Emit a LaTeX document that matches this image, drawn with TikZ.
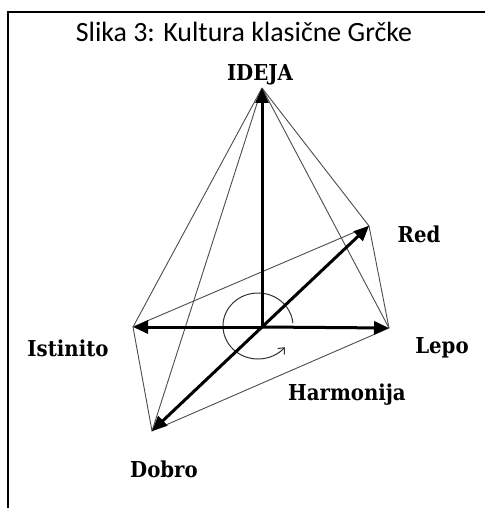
\documentclass[tikz,border=0pt]{standalone}
\usepackage{fontspec}
\setmainfont{Liberation Serif}
\newfontfamily\titlefont{Carlito}
\newfontfamily\lblfont{DejaVu Serif Condensed}
\usetikzlibrary{arrows.meta}
\begin{document}
\begin{tikzpicture}[x=1bp,y=-1bp,
  axisarrow/.style={line width=3bp,-{Triangle[length=15bp,width=13bp]}},
  edge/.style={draw=black!70,line width=0.9bp},
  lbl/.style={font=\lblfont\fontsize{22}{26}\selectfont\bfseries,inner sep=0pt},
  titlelbl/.style={font=\titlefont\fontsize{28}{32}\selectfont,inner sep=0pt}]
\useasboundingbox (0,0) rectangle (485,508);
\draw[line width=1.8bp] (8,508) -- (8,12) -- (485,12);
\node[titlelbl] (title) at (244,32) {Slika 3: Kultura klasične Grčke};
\coordinate (O) at (262,327);
\coordinate (I) at (262,88);
\coordinate (L) at (133,327);
\coordinate (R) at (389,328);
\coordinate (Rd) at (369,226);
\coordinate (D) at (152,431);
% thin edges
\draw[edge] (I) -- (L);
\draw[edge] (I) -- (D);
\draw[edge] (I) -- (Rd);
\draw[edge] (I) -- (R);
\draw[edge] (L) -- (Rd) -- (R) -- (D) -- cycle;
% rotation arc
\draw[draw=black!80,line width=1bp,-{Straight Barb[length=5bp,width=9bp]}] (258,326) ++(-5:35 and 33) arc[start angle=-5,end angle=-320,x radius=35,y radius=33];
% axes
\draw[axisarrow] (O) -- (I);
\draw[axisarrow] (O) -- (L);
\draw[axisarrow] (O) -- (R);
\draw[axisarrow] (O) -- (Rd);
\draw[axisarrow] (O) -- (D);
% labels
\node[lbl] (ideja) at (260,75) {IDEJA};
\node[lbl] (red) at (419,234) {Red};
\node[lbl] (lepo) at (442,348) {Lepo};
\node[lbl] (istinito) at (68,348) {Istinito};
\node[lbl] (dobro) at (164,469) {Dobro};
\node[lbl] (harm) at (347,395) {Harmonija};
\end{tikzpicture}
\end{document}
